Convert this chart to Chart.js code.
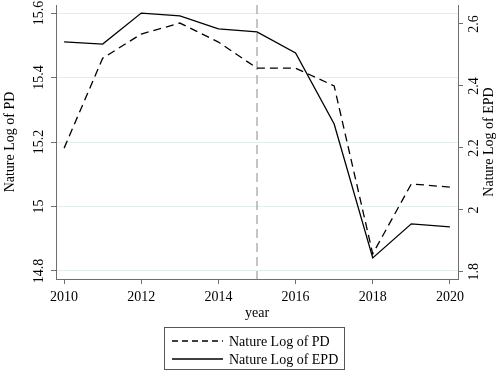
<!DOCTYPE html>
<html>
<head>
<meta charset="utf-8">
<script src="https://cdn.jsdelivr.net/npm/chart.js@4"></script>
<style>
  body { margin: 0; background: #fff; }
  #wrap { width: 498px; height: 372px; }
</style>
</head>
<body>
<div id="wrap"><canvas id="myChart" width="498" height="372"></canvas></div>
<script>
const years = [2010, 2011, 2012, 2013, 2014, 2015, 2016, 2017, 2018, 2019, 2020];
const logPD = [15.181, 15.46, 15.535, 15.569, 15.51, 15.429, 15.429, 15.374, 14.853, 15.07, 15.06];
const logEPD = [2.542, 2.535, 2.635, 2.626, 2.584, 2.574, 2.506, 2.277, 1.845, 1.955, 1.945];
const leftTicks = [14.8, 15, 15.2, 15.4, 15.6];
const rightTicks = [1.8, 2, 2.2, 2.4, 2.6];
const markYear = 2015;

const serif = "'Liberation Serif', 'Times New Roman', serif";
const axisColor = '#6e6e6e';

function pts(vals) {
    return years.map((yr, i) => ({ x: yr, y: vals[i] }));
}

// draws rotated y tick labels, y titles, the 2015 marker and the boxed legend
const extras = {
    id: 'extras',
    beforeDatasetsDraw(chart) {
        const { ctx, chartArea, scales } = chart;
        const px = scales.x.getPixelForValue(markYear);
        ctx.save();
        ctx.strokeStyle = '#8a8a8a';
        ctx.lineWidth = 1;
        ctx.setLineDash([9, 5]);
        ctx.beginPath();
        ctx.moveTo(px, chartArea.top);
        ctx.lineTo(px, chartArea.bottom);
        ctx.stroke();
        ctx.restore();
    },
    afterDraw(chart) {
        const { ctx, chartArea, scales } = chart;
        ctx.save();
        ctx.fillStyle = '#000';
        ctx.font = '14px ' + serif;
        ctx.textAlign = 'center';
        ctx.textBaseline = 'middle';
        const vert = (text, x, y) => {
            ctx.save();
            ctx.translate(x, y);
            ctx.rotate(-Math.PI / 2);
            ctx.fillText(text, 0, 0);
            ctx.restore();
        };
        leftTicks.forEach(v => vert(String(v), 39, scales.y.getPixelForValue(v)));
        rightTicks.forEach(v => vert(String(v), 474, scales.y1.getPixelForValue(v)));
        const midY = (chartArea.top + chartArea.bottom) / 2;
        vert('Nature Log of PD', 10, midY);
        vert('Nature Log of EPD', 489, midY);

        // legend
        const bx = 164, by = 327, bw = 180, bh = 42;
        ctx.strokeStyle = '#555';
        ctx.lineWidth = 1;
        ctx.strokeRect(bx + 0.5, by + 0.5, bw, bh);
        ctx.textAlign = 'left';
        chart.data.datasets.forEach((ds, i) => {
            const ry = by + 14 + i * 18;
            ctx.save();
            ctx.strokeStyle = ds.borderColor;
            ctx.lineWidth = ds.borderWidth;
            ctx.setLineDash(ds.borderDash ? [6, 4] : []);
            ctx.beginPath();
            ctx.moveTo(172, ry);
            ctx.lineTo(223, ry);
            ctx.stroke();
            ctx.restore();
            ctx.fillText(ds.label, 229, ry + 1);
        });
        ctx.restore();
    }
};

new Chart(document.getElementById('myChart'), {
    type: 'line',
    data: {
        datasets: [
            {
                label: 'Nature Log of PD',
                data: pts(logPD),
                yAxisID: 'y',
                borderColor: '#000',
                borderWidth: 1.3,
                borderDash: [8, 5],
                pointRadius: 0,
                tension: 0
            },
            {
                label: 'Nature Log of EPD',
                data: pts(logEPD),
                yAxisID: 'y1',
                borderColor: '#000',
                borderWidth: 1.3,
                pointRadius: 0,
                tension: 0
            }
        ]
    },
    options: {
        responsive: false,
        animation: false,
        layout: { padding: { top: 5, bottom: 50, left: 0, right: 0 } },
        plugins: {
            legend: { display: false },
            tooltip: { enabled: false }
        },
        scales: {
            x: {
                type: 'linear',
                min: 2009.79,
                max: 2020.21,
                afterBuildTicks: s => { s.ticks = years.filter(y => y % 2 === 0).map(v => ({ value: v })); },
                afterFit: s => { s.height = 43; },
                ticks: {
                    color: '#000',
                    font: { family: serif, size: 14 },
                    padding: 5,
                    maxRotation: 0,
                    callback: v => String(v)
                },
                grid: { drawOnChartArea: false, tickLength: 5, tickColor: axisColor },
                border: { color: axisColor, width: 1 },
                title: {
                    display: true,
                    text: 'year',
                    color: '#000',
                    font: { family: serif, size: 14 },
                    padding: { top: 0, bottom: 0 }
                }
            },
            y: {
                position: 'left',
                min: 14.775,
                max: 15.625,
                afterBuildTicks: s => { s.ticks = leftTicks.map(v => ({ value: v })); },
                afterFit: s => { s.width = 56; },
                ticks: { display: false },
                grid: { color: '#e3eded', tickLength: 5, tickColor: axisColor },
                border: { color: axisColor, width: 1 }
            },
            y1: {
                position: 'right',
                min: 1.777,
                max: 2.661,
                afterBuildTicks: s => { s.ticks = rightTicks.map(v => ({ value: v })); },
                afterFit: s => { s.width = 40; },
                ticks: { display: false },
                grid: { drawOnChartArea: false, tickLength: 5, tickColor: axisColor },
                border: { color: axisColor, width: 1 }
            }
        }
    },
    plugins: [extras]
});
</script>
</body>
</html>
